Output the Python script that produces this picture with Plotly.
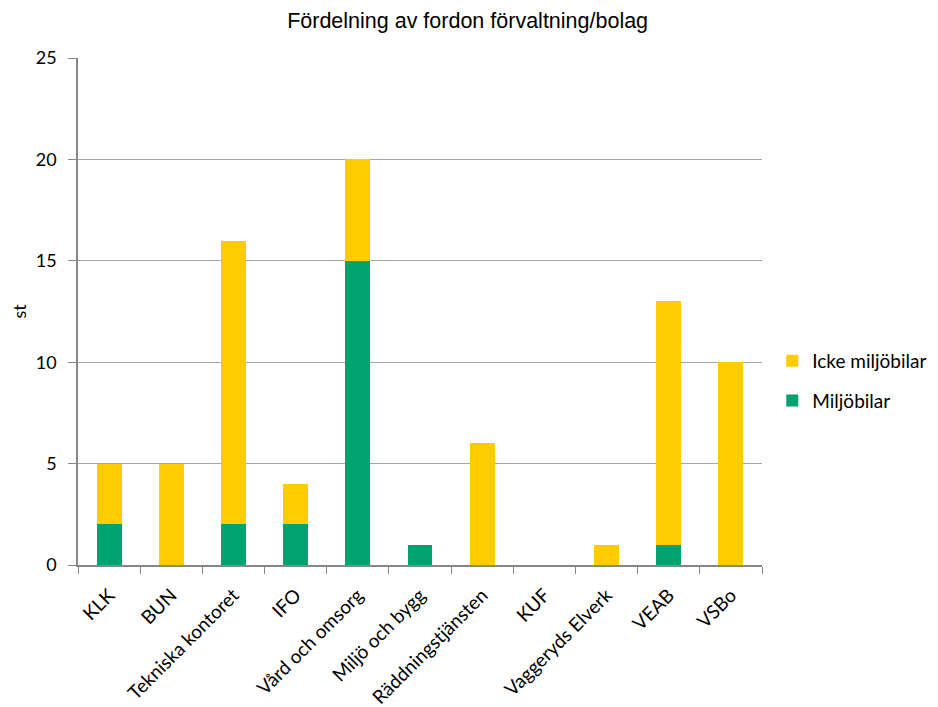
import plotly.graph_objects as go

categories = ["KLK", "BUN", "Tekniska kontoret", "IFO", "Vård och omsorg", "Miljö och bygg",
              "Räddningstjänsten", "KUF", "Vaggeryds Elverk", "VEAB", "VSBo"]
miljobilar = [2, 0, 2, 2, 15, 1, 0, 0, 0, 1, 0]
icke_miljobilar = [3, 5, 14, 2, 5, 0, 6, 0, 1, 12, 10]

fig = go.Figure()
fig.add_trace(go.Bar(x=categories, y=miljobilar, name="Miljöbilar", legendgroup="a", legendrank=2,
                     marker=dict(color="#00A36F", line=dict(width=0)), width=0.4))
fig.add_trace(go.Bar(x=categories, y=icke_miljobilar, name="Icke miljöbilar", legendgroup="b", legendrank=1,
                     marker=dict(color="#FFCC00", line=dict(width=0)), width=0.4))

fig.update_layout(
    barmode="stack",
    width=938, height=707,
    margin=dict(l=70, r=184, t=50, b=150),
    paper_bgcolor="white", plot_bgcolor="white",
    title=dict(text="Fördelning av fordon förvaltning/bolag", x=0.49,
               xanchor="center", y=1 - 12 / 707, yanchor="middle",
               font=dict(family="Liberation Sans", size=21.5, color="black")),
    font=dict(family="Lato", size=18, color="black"),
    legend=dict(x=1.015, y=0.363, xanchor="left", yanchor="middle",
                traceorder="grouped", font=dict(family="Lato", size=19, color="black"),
                itemsizing="constant", tracegroupgap=12, bgcolor="rgba(0,0,0,0)"),
    showlegend=True,
)
fig.update_xaxes(
    automargin=False,
    tickangle=-45, tickson="boundaries", ticks="outside", ticklen=7, tickcolor="#868686",
    showline=True, linecolor="#868686", linewidth=1.5, ticklabelstandoff=10,
    tickfont=dict(family="Lato", size=19, color="black"),
)
fig.update_yaxes(
    automargin=False,
    range=[0, 25], dtick=5, showgrid=True, gridcolor="#A6A6A6", gridwidth=1,
    ticks="outside", ticklen=8, tickcolor="#868686", ticklabelstandoff=8,
    showline=True, linecolor="#868686", linewidth=1.5,
    tickfont=dict(family="Lato", size=18, color="black"),
    title=dict(text="st", font=dict(family="Lato", size=18, color="black"), standoff=22),
    zeroline=False,
)

fig.write_html("out.html")
